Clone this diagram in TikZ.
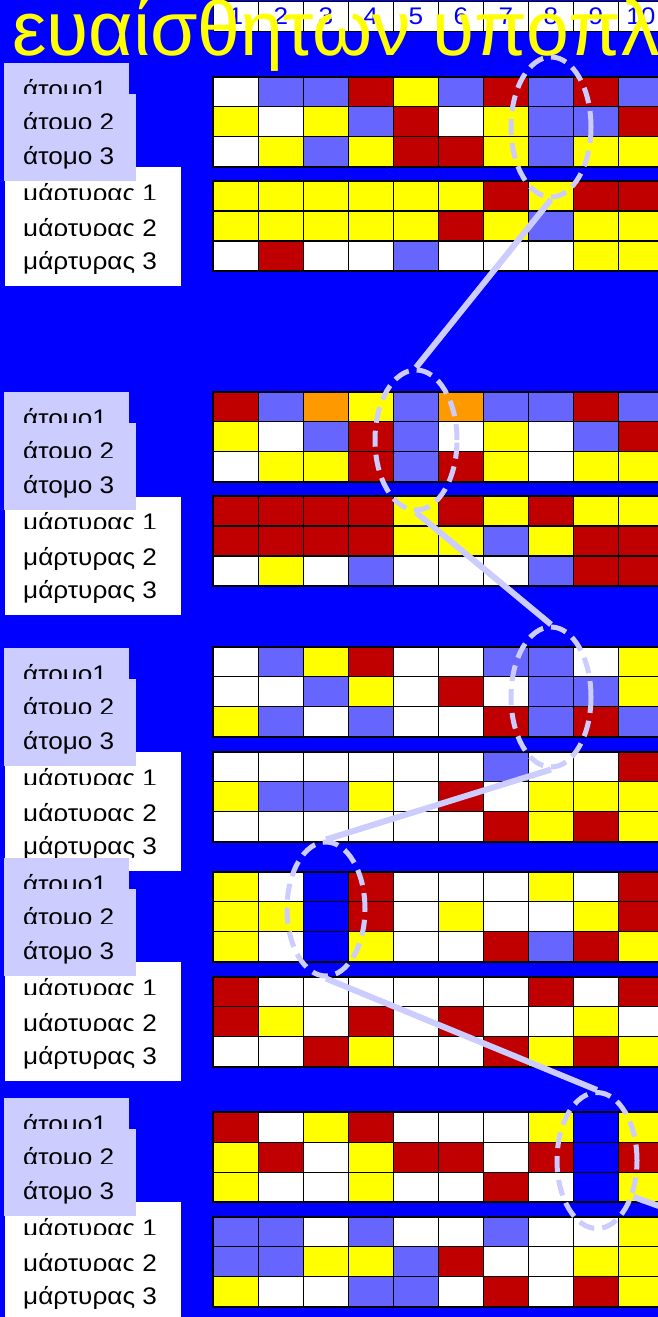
\documentclass[tikz,border=0pt]{standalone}
\usepackage{fontspec}
\setmainfont{Liberation Sans}
\newfontfamily\widefont[FakeStretch=1.09]{Liberation Sans}
\usetikzlibrary{shapes.geometric}
\definecolor{cBg}{HTML}{0000FF}
\definecolor{cB}{HTML}{0000FF}
\definecolor{cW}{HTML}{FFFFFF}
\definecolor{cL}{HTML}{6666FF}
\definecolor{cR}{HTML}{C00000}
\definecolor{cY}{HTML}{FFFF00}
\definecolor{cO}{HTML}{FF9900}
\definecolor{lav}{HTML}{CCCCFF}
\tikzset{
  cellst/.style={draw=black, line width=1.5pt},
  outerst/.style={draw=black, line width=2.2pt},
  hcell/.style={draw=black, line width=1.5pt, fill=white, minimum width=45pt, minimum height=30pt, inner sep=0pt, text=cBg, font=\widefont\fontsize{24}{24}\selectfont},
  titlest/.style={anchor=base west, inner sep=0pt, text=cY, font=\fontsize{77}{77}\selectfont},
  lbl/.style={anchor=base west, inner sep=0pt, text=black, font=\widefont\fontsize{24}{24}\selectfont},
  abox/.style={fill=lav},
  wbox/.style={fill=white},
  ell/.style={ellipse, draw=lav, line width=5pt, dash pattern=on 16pt off 8pt, inner sep=0pt},
  conn/.style={draw=lav, line width=6pt}
}
\newcommand\cellrow[2]{\foreach \c [count=\i from 0] in {#2} {\filldraw[cellst, fill=c\c] ({213.3+45*\i},#1) rectangle ++(45,30);}}
\newcommand\cgrid[4]{\cellrow{#1}{#2}\cellrow{#1+30}{#3}\cellrow{#1+60}{#4}\draw[outerst] (213.3,#1) rectangle (700,#1+90);}
\newcommand\lblock[3]{%
  \fill[wbox] (5,#1+73.3) rectangle (181,#1+192);
  \begin{scope}\clip (5,#1+80) rectangle (181,#1+105.3);
    \node[lbl] (#2m1) at (23,#1+107) {μάρτυρας 1};
  \end{scope}
  \begin{scope}\clip (5,#1+115) rectangle (181,#1+#3);
    \node[lbl] (#2m2) at (23,#1+142) {μάρτυρας 2};
  \end{scope}
  \node[lbl] (#2m3) at (23,#1+175.5) {μάρτυρας 3};
  \fill[abox] (4,#1-31.5) rectangle (129,#1+10);
  \node[lbl] (#2a1) at (23,#1+3.4) {άτομο1};
  \fill[abox] (4,#1) rectangle (135.7,#1+87);
  \begin{scope}\clip (4,#1+5) rectangle (135.7,#1+34.4);
    \node[lbl] (#2a2) at (23,#1+36) {άτομο 2};
  \end{scope}
  \node[lbl] (#2a3) at (23,#1+70.5) {άτομο 3};
}
\begin{document}
\begin{tikzpicture}[x=1pt, y=-1pt]
\useasboundingbox (0,0) rectangle (658,1317);
\clip (0,0) rectangle (658,1317);
\fill[cBg] (0,0) rectangle (658,1317);
% header
\foreach \i in {1,...,10} {\node[hcell] (h\i) at ({213.3+45*\i-22.5},16.6) {\i};}
% title
\node[titlest] (title) at (12,55) {ευαίσθητων υποπληθυσμών};
% grids
\cgrid{76.7}{W,L,L,R,Y,L,R,L,R,L}{Y,W,Y,L,R,W,Y,L,L,R}{W,Y,L,Y,R,R,Y,L,Y,Y}
\cgrid{181.2}{Y,Y,Y,Y,Y,Y,R,Y,R,R}{Y,Y,Y,Y,Y,R,Y,L,Y,Y}{W,R,W,W,L,W,W,W,Y,Y}
\cgrid{391.7}{R,L,O,Y,L,O,L,L,R,L}{Y,W,L,R,L,W,Y,W,L,R}{W,Y,Y,R,L,R,Y,W,Y,Y}
\cgrid{496.2}{R,R,R,R,Y,R,Y,R,Y,Y}{R,R,R,R,Y,Y,L,Y,R,R}{W,Y,W,L,W,W,W,L,R,R}
\cgrid{646.7}{W,L,Y,R,W,W,L,L,W,Y}{W,W,L,Y,W,R,W,L,L,Y}{Y,L,W,L,W,W,R,L,R,L}
\cgrid{751.7}{W,W,W,W,W,W,L,W,W,R}{Y,L,L,Y,W,R,W,Y,Y,Y}{W,W,W,W,W,W,R,Y,R,Y}
\cgrid{871.7}{Y,W,B,R,W,W,W,Y,W,R}{Y,Y,B,R,W,Y,W,W,Y,R}{Y,W,B,Y,W,W,R,L,R,Y}
\cgrid{976.7}{R,W,W,W,W,W,W,R,W,R}{R,Y,W,R,W,R,W,W,Y,W}{W,W,R,Y,W,W,R,Y,R,Y}
\cgrid{1112.3}{R,W,Y,R,W,W,W,Y,B,Y}{Y,R,W,Y,R,R,W,R,B,R}{Y,W,W,Y,W,W,R,W,B,Y}
\cgrid{1216.7}{L,L,W,L,W,W,L,W,W,Y}{L,L,Y,Y,L,R,W,W,Y,Y}{Y,W,W,L,L,W,R,W,R,Y}
% labels
\lblock{94}{p}{141}
\lblock{423.3}{q}{160}
\lblock{679}{r}{141}
\lblock{889}{s}{141}
\lblock{1129}{t}{141}
% ellipses
\node[ell, minimum width=80pt, minimum height=140pt] (e1) at (551,127) {};
\node[ell, minimum width=82pt, minimum height=140pt] (e2) at (416,440) {};
\node[ell, minimum width=80pt, minimum height=140pt] (e3) at (551,697) {};
\node[ell, minimum width=78pt, minimum height=134pt] (e4) at (326,909) {};
\node[ell, minimum width=80pt, minimum height=136pt] (e5) at (597,1160.5) {};
\coordinate (c6) at (760,1242);
% connectors
\draw[conn] (e1.south) -- (e2.north);
\draw[conn] (e2.south) -- (e3.north);
\draw[conn] (e3.south) -- (e4.north);
\draw[conn] (e4.south) -- (e5.north);
\draw[conn] (e5.-45) -- (c6);
\end{tikzpicture}
\end{document}
